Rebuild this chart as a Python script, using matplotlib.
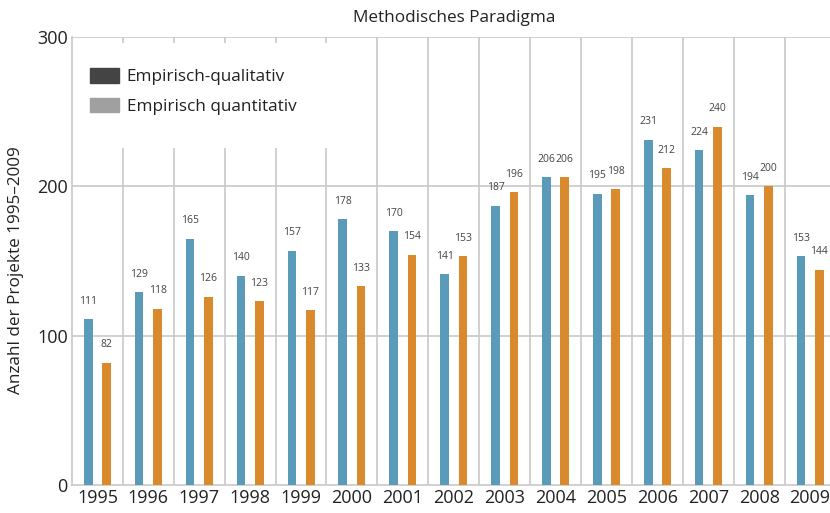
import matplotlib.pyplot as plt
import numpy as np
from matplotlib.patches import Patch, Rectangle

plt.rcParams['font.family'] = ['Open Sans', 'DejaVu Sans']

jahre = ['1995', '1996', '1997', '1998', '1999', '2000', '2001', '2002',
         '2003', '2004', '2005', '2006', '2007', '2008', '2009']
qualitativ = [111, 129, 165, 140, 157, 178, 170, 141, 187, 206, 195, 231, 224, 194, 153]
quantitativ = [82, 118, 126, 123, 117, 133, 154, 153, 196, 206, 198, 212, 240, 200, 144]

blau = '#5b9bba'
orange = '#d98a2c'
grau = '#c8c8c8'

fig = plt.figure(figsize=(8.3, 5.13), dpi=100)
ax = fig.add_axes([0.0867, 0.0546, 0.92, 0.8734])

x = np.arange(len(jahre))
b = 0.17
d = 0.18
ax.bar(x - d, qualitativ, b, color=blau, zorder=3)
ax.bar(x + d, quantitativ, b, color=orange, zorder=3)

for i in range(len(jahre)):
    ax.annotate(str(qualitativ[i]), (x[i] - d, qualitativ[i]), xytext=(0, 9),
                textcoords='offset points', ha='center', va='bottom',
                fontsize=7.5, color='#444444')
    ax.annotate(str(quantitativ[i]), (x[i] + d, quantitativ[i]), xytext=(0, 9),
                textcoords='offset points', ha='center', va='bottom',
                fontsize=7.5, color='#444444')

ax.set_xlim(-0.5, len(jahre) - 0.5)
ax.set_ylim(0, 300)
ax.set_yticks([0, 100, 200, 300])
ax.set_xticks(x)
ax.set_xticklabels(jahre)
ax.tick_params(length=0, labelsize=13, colors='#222222', pad=3)

# Gitter
for g in np.arange(0.5, len(jahre) - 0.5, 1):
    ax.axvline(g, color=grau, lw=1.2, zorder=1)
for yy in [100, 200, 300]:
    ax.axhline(yy, color=grau, lw=1.2, zorder=1)

for s in ['top', 'right']:
    ax.spines[s].set_visible(False)
ax.spines['left'].set_color(grau)
ax.spines['bottom'].set_color(grau)
ax.spines['left'].set_linewidth(1.2)
ax.spines['bottom'].set_linewidth(1.2)

ax.set_ylabel('Anzahl der Projekte 1995–2009', fontsize=12.3, color='#222222')
ax.yaxis.set_label_coords(-0.063, 0.48)
ax.set_title('Methodisches Paradigma', fontsize=12.3, color='#222222', pad=11)

# weisser Kasten hinter der Legende
ax.add_patch(Rectangle((0.002, 0.752), 0.338, 0.235, transform=ax.transAxes,
                       facecolor='white', edgecolor='none', zorder=2))

handles = [Patch(color='#444444'), Patch(color='#a0a0a0')]
leg = ax.legend(handles, ['Empirisch-qualitativ', 'Empirisch quantitativ'],
                loc='upper left', bbox_to_anchor=(0.0236, 0.93), frameon=False,
                fontsize=12.3, handlelength=1.7, handleheight=0.93,
                labelspacing=0.72, borderpad=0, borderaxespad=0, handletextpad=0.45)
for t in leg.get_texts():
    t.set_color('#222222')
leg.set_zorder(5)

fig.savefig('out.png', dpi=100)
